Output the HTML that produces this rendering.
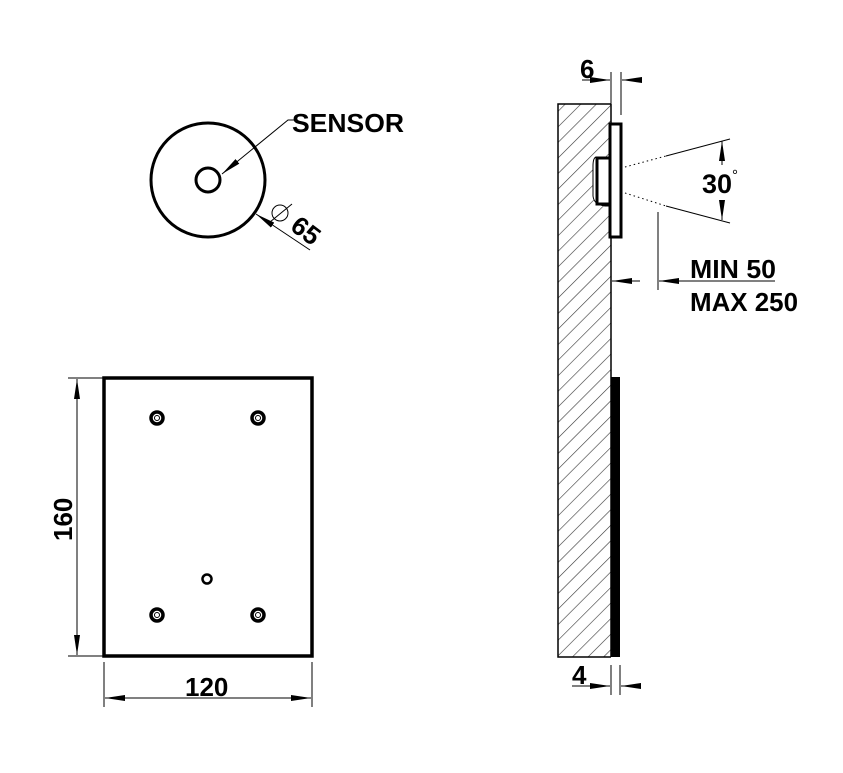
<!DOCTYPE html>
<html><head><meta charset="utf-8"><style>html,body{margin:0;padding:0;background:#fff}svg{display:block}</style></head>
<body>
<svg width="843" height="773" viewBox="0 0 843 773" xmlns="http://www.w3.org/2000/svg" font-family="Liberation Sans, Arial, sans-serif">
<defs>
<pattern id="h" patternUnits="userSpaceOnUse" width="11" height="11" patternTransform="rotate(45)">
<line x1="0" y1="0" x2="0" y2="11" stroke="#333" stroke-width="1.2"/>
</pattern>
<marker id="a" viewBox="0 0 20 6" refX="20" refY="3" markerWidth="20" markerHeight="6" markerUnits="userSpaceOnUse" orient="auto"><path d="M0,0 L20,3 L0,6 Z" fill="#000"/></marker>
</defs>
<g fill="none" stroke="#000">
<circle cx="208" cy="180" r="57" stroke-width="3"/>
<circle cx="208" cy="180" r="12" stroke-width="3"/>
<polyline points="295,120 288,120 222,174" stroke-width="1" marker-end="url(#a)"/>
<line x1="310" y1="250" x2="256" y2="214" stroke-width="1" marker-end="url(#a)"/>
<circle cx="280" cy="213" r="8" stroke-width="1"/>
<line x1="270" y1="222" x2="292" y2="204" stroke-width="1"/>

<rect x="104" y="378" width="208" height="278" stroke-width="3.5"/>
<g stroke-width="3.5"><circle cx="157" cy="418" r="6"/><circle cx="258" cy="418" r="6"/><circle cx="157" cy="615" r="6"/><circle cx="258" cy="615" r="6"/></g>
<g stroke-width="1"><circle cx="157" cy="418" r="2.5"/><circle cx="258" cy="418" r="2.5"/><circle cx="157" cy="615" r="2.5"/><circle cx="258" cy="615" r="2.5"/></g>
<circle cx="207" cy="579" r="4.5" stroke-width="2.5"/>
<line x1="68" y1="378" x2="103" y2="378" stroke-width="1"/>
<line x1="68" y1="656" x2="103" y2="656" stroke-width="1"/>
<line x1="77" y1="517" x2="77" y2="379" stroke-width="1" marker-end="url(#a)"/>
<line x1="77" y1="517" x2="77" y2="655" stroke-width="1" marker-end="url(#a)"/>
<line x1="104" y1="662" x2="104" y2="707" stroke-width="1"/>
<line x1="312" y1="662" x2="312" y2="707" stroke-width="1"/>
<line x1="208" y1="698" x2="105" y2="698" stroke-width="1" marker-end="url(#a)"/>
<line x1="208" y1="698" x2="311" y2="698" stroke-width="1" marker-end="url(#a)"/>

<rect x="558" y="104" width="53" height="553" fill="url(#h)" stroke="none"/>
<polyline points="611,104 558,104 558,657 611,657" stroke-width="1.5"/>
<line x1="611" y1="104" x2="611" y2="657" stroke-width="1.5"/>
<rect x="611" y="377" width="9" height="280" fill="#000" stroke="none"/>
<rect x="610" y="124" width="11" height="113" fill="#fff" stroke-width="3"/>
<path d="M610,157 L596,157 Q593,158 593,166 L593,196 Q594,205 605,206 L610,206" fill="#fff" stroke-width="1"/>
<rect x="597" y="158" width="13" height="46" fill="#fff" stroke-width="3"/>
<line x1="611" y1="72" x2="611" y2="104" stroke-width="1"/>
<line x1="621" y1="72" x2="621" y2="115" stroke-width="1"/>
<line x1="582" y1="80" x2="610" y2="80" stroke-width="1" marker-end="url(#a)"/>
<line x1="642" y1="80" x2="622" y2="80" stroke-width="1" marker-end="url(#a)"/>
<line x1="625" y1="167" x2="666" y2="156" stroke-width="1" stroke-dasharray="1.5,3"/>
<line x1="666" y1="156" x2="730" y2="139" stroke-width="1"/>
<line x1="625" y1="193" x2="666" y2="206" stroke-width="1" stroke-dasharray="1.5,3"/>
<line x1="666" y1="206" x2="730" y2="223" stroke-width="1"/>
<line x1="722" y1="165" x2="722" y2="141" stroke-width="1" marker-end="url(#a)"/>
<line x1="722" y1="200" x2="722" y2="220" stroke-width="1" marker-end="url(#a)"/>
<line x1="658" y1="212" x2="658" y2="290" stroke-width="1"/>
<line x1="640" y1="281" x2="612" y2="281" stroke-width="1" marker-end="url(#a)"/>
<line x1="775" y1="281" x2="659" y2="281" stroke-width="1" marker-end="url(#a)"/>
<line x1="611" y1="665" x2="611" y2="695" stroke-width="1"/>
<line x1="620" y1="665" x2="620" y2="695" stroke-width="1"/>
<line x1="572" y1="686" x2="610" y2="686" stroke-width="1" marker-end="url(#a)"/>
<line x1="638" y1="686" x2="621" y2="686" stroke-width="1" marker-end="url(#a)"/>
</g>
<g fill="#000" font-weight="bold">
<text x="292" y="132" font-size="26" textLength="112" lengthAdjust="spacingAndGlyphs">SENSOR</text>
<text x="0" y="0" transform="translate(289,229) rotate(37)" font-size="26">65</text>
<text x="0" y="0" transform="translate(72,541) rotate(-90)" font-size="26">160</text>
<text x="185" y="696" font-size="26">120</text>
<text x="580" y="78" font-size="26">6</text>
<text x="702" y="193" font-size="27">30</text>
<text x="732" y="180" font-size="15" font-weight="normal">°</text>
<text x="690" y="278" font-size="26" textLength="86" lengthAdjust="spacingAndGlyphs">MIN 50</text>
<text x="690" y="311" font-size="26" textLength="108" lengthAdjust="spacingAndGlyphs">MAX 250</text>
<text x="572" y="684" font-size="26">4</text>
</g>
</svg>
</body></html>
